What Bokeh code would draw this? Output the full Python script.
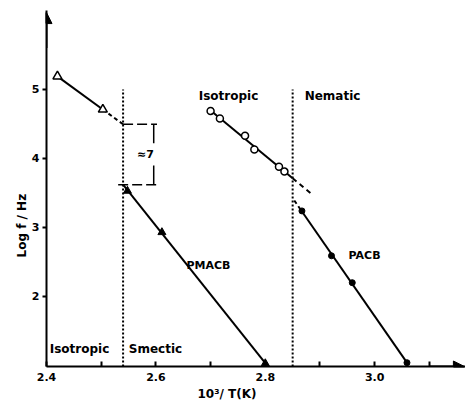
import numpy as np
from bokeh.plotting import figure
from bokeh.models import Range1d, FixedTicker, Label, Arrow, NormalHead, Title
from bokeh.embed import file_html
from bokeh.resources import INLINE

# ---- data ----
pmacb_iso_x = [2.42, 2.503]
pmacb_iso_y = [5.19, 4.71]
pmacb_sm_x = [2.548, 2.611, 2.80]
pmacb_sm_y = [3.53, 2.93, 1.03]
pacb_iso_x = [2.70, 2.717, 2.763, 2.78, 2.825, 2.835]
pacb_iso_y = [4.69, 4.58, 4.33, 4.13, 3.88, 3.81]
pacb_nem_x = [2.867, 2.921, 2.959, 3.059]
pacb_nem_y = [3.24, 2.59, 2.20, 1.04]

t_smectic = 2.54
t_nematic = 2.85
x_ticks = [2.4, 2.6, 2.8, 3.0]
x_minor = [2.5, 2.7, 2.9, 3.1]
y_ticks = [2, 3, 4, 5]

X0, X1 = 2.4, 3.166
Y0, Y1 = 0.985, 6.145

FONT = "DejaVu Sans"

p = figure(width=465, height=408, output_backend="svg", toolbar_location=None,
           x_range=Range1d(X0, X1), y_range=Range1d(Y0, Y1),
           min_border_left=46, min_border_right=0, min_border_top=10, min_border_bottom=42)
p.grid.visible = False
p.outline_line_color = None
p.background_fill_color = "white"

for ax in (p.xaxis, p.yaxis):
    ax.axis_line_width = 2
    ax.axis_line_color = "black"
    ax.major_tick_line_width = 2
    ax.minor_tick_line_width = 2
    ax.major_label_text_font = FONT
    ax.major_label_text_font_style = "bold"
    ax.major_label_text_font_size = "11px"
    ax.major_label_text_color = "black"

p.xaxis.ticker = FixedTicker(ticks=x_ticks, minor_ticks=x_minor)
p.xaxis.major_tick_in = 5
p.xaxis.major_tick_out = 0
p.xaxis.minor_tick_in = 5
p.xaxis.minor_tick_out = 0
p.xaxis.major_label_standoff = 6
p.xaxis.major_label_overrides = {2.4: "2.4", 2.6: "2.6", 2.8: "2.8", 3.0: "3.0"}

p.yaxis.ticker = FixedTicker(ticks=y_ticks, minor_ticks=[])
p.yaxis.major_tick_in = 0
p.yaxis.major_tick_out = 4
p.yaxis.major_label_standoff = 3

# axis titles
p.add_layout(Title(text="Log f / Hz", align="left", offset=109, text_font=FONT,
                   text_font_style="bold", text_font_size="12px", standoff=0,
                   text_color="black"), "left")
p.add_layout(Title(text="10³/ T(K)", align="left", offset=151, text_font=FONT,
                   text_font_style="bold", text_font_size="12px", standoff=3,
                   text_color="black"), "below")

# axis arrows
p.add_layout(Arrow(end=NormalHead(size=11, fill_color="black", line_color="black"),
                   x_start=X0, y_start=5.6, x_end=X0, y_end=Y1 - 0.03, line_width=2))
p.add_layout(Arrow(end=NormalHead(size=11, fill_color="black", line_color="black"),
                   x_start=3.1, y_start=Y0, x_end=X1 - 0.002, y_end=Y0, line_width=2))

# transition lines
p.line([t_smectic, t_smectic], [Y0, 5.0], line_dash="2 2", line_width=2, color="black")
p.line([t_nematic, t_nematic], [Y0, 5.0], line_dash="2 2", line_width=2, color="black")

# fitted lines
def fit(xs, ys):
    return np.polyfit(xs, ys, 1)

c1 = fit(pmacb_iso_x, pmacb_iso_y)
p.line([pmacb_iso_x[0], pmacb_iso_x[-1]], np.polyval(c1, [pmacb_iso_x[0], pmacb_iso_x[-1]]),
       line_width=2, color="black")
p.line([pmacb_iso_x[-1], t_smectic], np.polyval(c1, [pmacb_iso_x[-1], t_smectic]),
       line_width=2, color="black", line_dash="4 3")

c2 = fit(pmacb_sm_x, pmacb_sm_y)
p.line([t_smectic, pmacb_sm_x[-1]], np.polyval(c2, [t_smectic, pmacb_sm_x[-1]]),
       line_width=2, color="black")

c3 = fit(pacb_iso_x, pacb_iso_y)
p.line([pacb_iso_x[0], t_nematic], np.polyval(c3, [pacb_iso_x[0], t_nematic]),
       line_width=2, color="black")
p.line([t_nematic, 2.886], np.polyval(c3, [t_nematic, 2.886]),
       line_width=2, color="black", line_dash="5 4")

c4 = fit(pacb_nem_x, pacb_nem_y)
p.line([pacb_nem_x[0], pacb_nem_x[-1]], np.polyval(c4, [pacb_nem_x[0], pacb_nem_x[-1]]),
       line_width=2, color="black")
p.line([t_nematic + 0.003, pacb_nem_x[0]], np.polyval(c4, [t_nematic + 0.003, pacb_nem_x[0]]),
       line_width=2, color="black", line_dash="4 3")

# "≈7" bracket
y_hi = float(np.polyval(c1, t_smectic))
y_lo = float(np.polyval(c2, t_smectic))
p.line([t_smectic, 2.602], [y_hi, y_hi], line_width=1.5, color="black", line_dash="10 4")
p.line([2.531, 2.602], [y_lo, y_lo], line_width=1.5, color="black", line_dash="10 4")
p.line([2.596, 2.596], [y_hi, 4.22], line_width=1.5, color="black")
p.line([2.596, 2.596], [3.9, y_lo], line_width=1.5, color="black")

# markers
p.scatter(pmacb_iso_x, pmacb_iso_y, marker="triangle", size=9, fill_color="white",
          line_color="black", line_width=1.5)
p.scatter(pmacb_sm_x, pmacb_sm_y, marker="triangle", size=8, fill_color="black",
          line_color="black")
p.scatter(pacb_iso_x, pacb_iso_y, marker="circle", size=7, fill_color="white",
          line_color="black", line_width=1.5)
p.scatter(pacb_nem_x, pacb_nem_y, marker="circle", size=6, fill_color="black",
          line_color="black")

def X(px):
    return 2.4 + (px - 46) / 547.0

def Y(py):
    return 0.985 + (366 - py) / 69.0

def lab(text, px, py, size="12px", style="bold", align="center"):
    p.add_layout(Label(x=X(px), y=Y(py), text=text, text_font=FONT, text_font_style=style,
                       text_font_size=size, text_align=align, text_baseline="middle",
                       text_color="black"))

lab("Isotropic", 228, 95)
lab("Nematic", 332, 95)
lab("PMACB", 208, 265, size="11px")
lab("PACB", 364, 255, size="11px")
lab("Isotropic", 79, 348)
lab("Smectic", 155, 348)
lab("≈7", 145, 154, size="11px")

open("out.html", "w").write(file_html(p, INLINE))
